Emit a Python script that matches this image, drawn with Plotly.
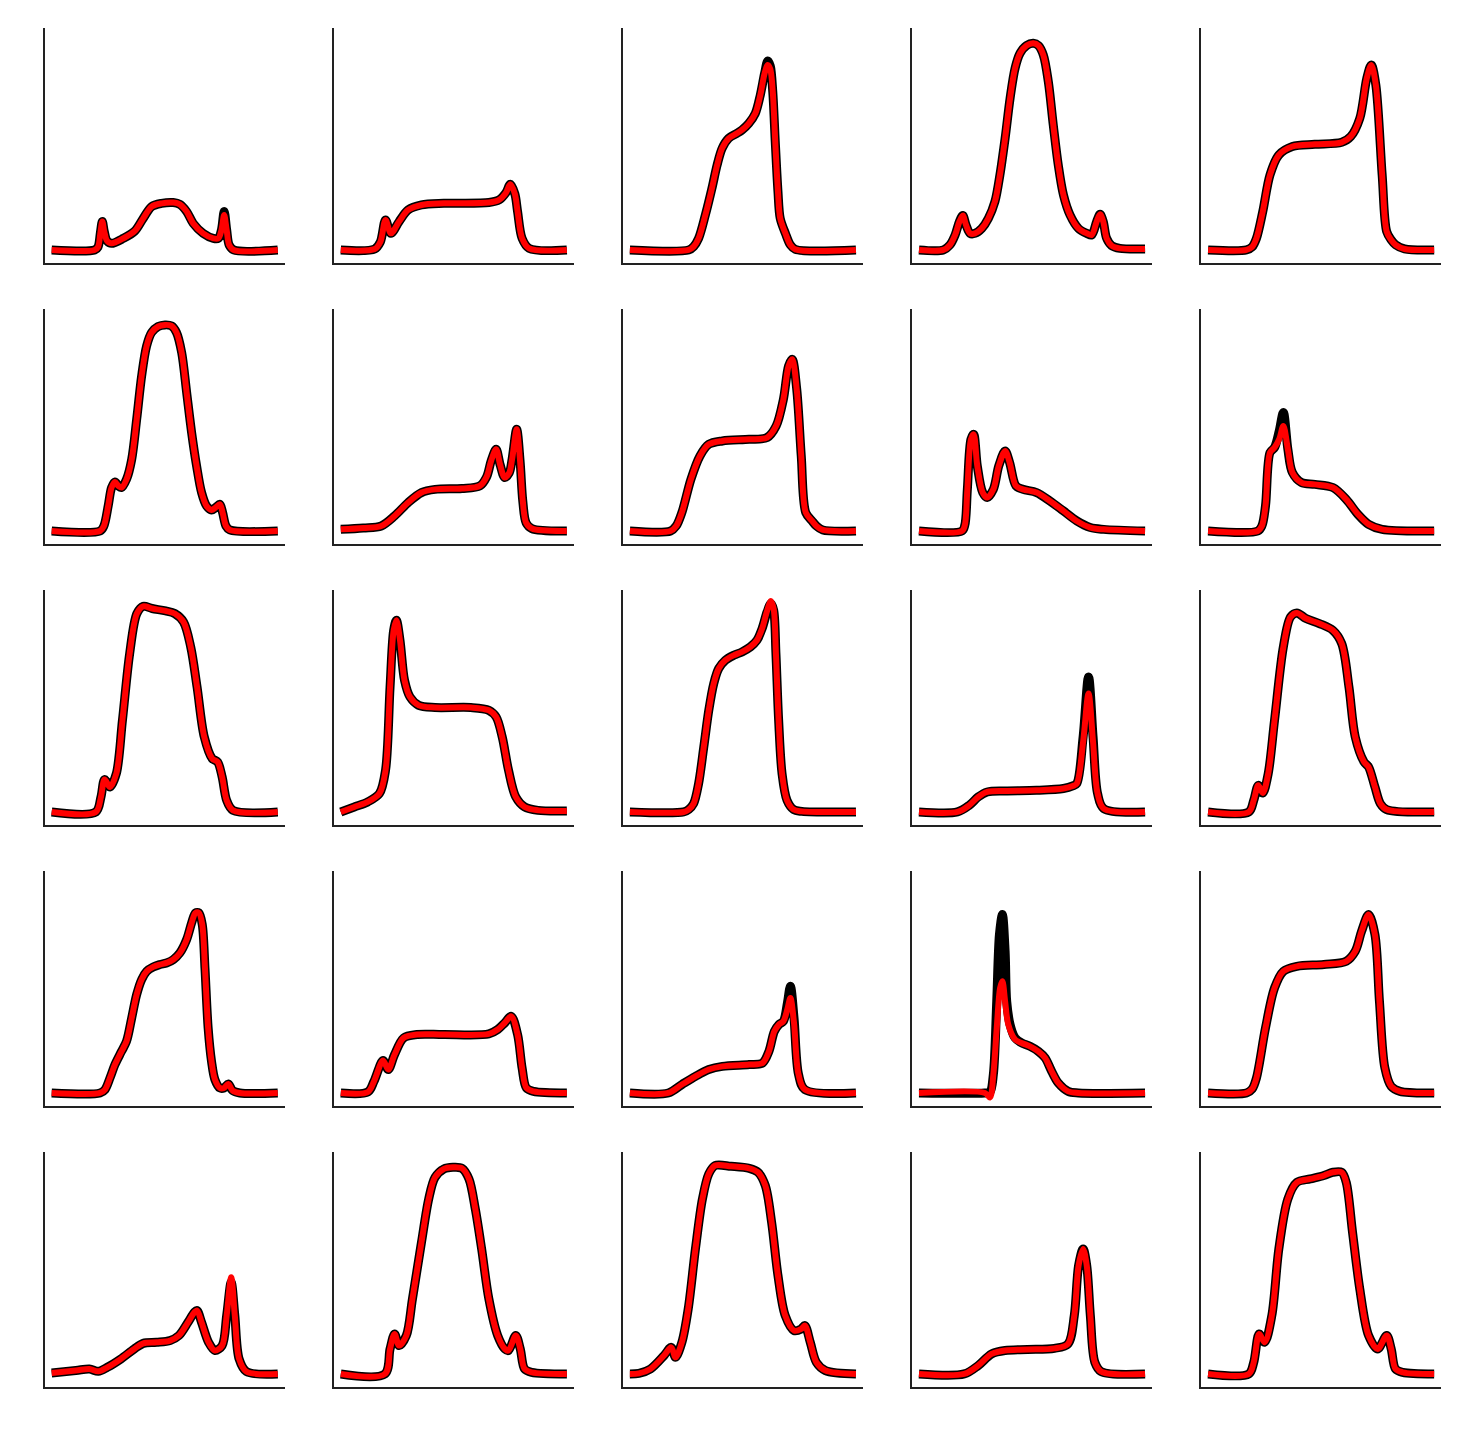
import plotly.graph_objects as go

# x in percent of the curve span, y in arbitrary intensity units (shared scale)
P01_X = [0, 19, 20.5, 21.6, 22.4, 23.3, 24.5, 26.5, 31.7, 36.8, 40.5, 44.2, 48.6, 53.8, 56.7, 59.7, 62.6, 67, 71.5, 73.7, 75.1, 76.3, 77.4, 78.5, 80.5, 100]
P01_Y = [0, 0, 1.5, 9, 14.2, 9, 4.5, 3.3, 5.8, 9.5, 15.8, 21.7, 23.3, 23.7, 22.8, 19.2, 13.3, 8.3, 5.8, 5.8, 10, 19.2, 10, 2.5, 0, 0]
P01_RED_Y = [0, 0, 1.5, 9, 14.2, 9, 4.5, 3.3, 5.8, 9.5, 15.8, 21.7, 23.3, 23.7, 22.8, 19.2, 13.3, 8.3, 5.8, 5.8, 10, 17.5, 10, 2.5, 0, 0]

P02_X = [0, 15, 17.5, 19.8, 22.2, 25.8, 29.8, 35.7, 45.6, 65.5, 70, 73, 75, 77, 78.2, 80.2, 83.3, 100]
P02_Y = [0, 0.5, 4, 15, 8.3, 14.2, 20, 22.5, 23.3, 23.7, 25, 28.5, 32.8, 28, 19.2, 5.8, 0.8, 0]

P03_X = [0, 26, 28.2, 30.4, 33.4, 36.3, 38.6, 40.8, 43.7, 47.4, 49.6, 52.6, 55.5, 57.7, 59.6, 61, 62.1, 63.2, 64.3, 65.5, 66.5, 68.8, 71, 73.2, 100]
P03_Y = [0, 0, 1.7, 5.8, 17.5, 30.8, 42.5, 50.8, 55.8, 58.3, 60, 63.3, 68.3, 77.5, 88.3, 94.5, 92, 79.2, 54.2, 29.2, 15.8, 8.3, 2.5, 0.3, 0]
P03_RED_Y = [0, 0, 1.7, 5.8, 17.5, 30.8, 42.5, 50.8, 55.8, 58.3, 60, 63.3, 68.3, 77.5, 88.3, 92.5, 90.5, 79.2, 54.2, 29.2, 15.8, 8.3, 2.5, 0.3, 0]

P04_X = [0, 10.8, 13.7, 16, 17.9, 19.4, 20.8, 22.6, 24.8, 27.8, 30.7, 33.6, 35.8, 38.1, 40.3, 42.5, 44.7, 47.6, 50.6, 52.8, 55, 57.2, 59.4, 61.6, 63.9, 66.8, 70.5, 74.2, 76.4, 78.6, 80.1, 81.5, 83, 85.2, 88.9, 100]
P04_Y = [0, 0, 2.5, 7.5, 14.2, 17.2, 12.5, 8.3, 8.3, 10.8, 15.8, 24.2, 37.5, 55.8, 75.8, 90.8, 98.3, 102.2, 103.3, 102.2, 97.5, 84.2, 62.5, 42.5, 27.5, 17.5, 10.8, 8.3, 7.5, 14.2, 17.8, 14.2, 5.8, 2.2, 0.8, 0.5]

P05_X = [0, 17, 19.5, 21.4, 24.2, 27.4, 31.3, 37.3, 47.2, 59.1, 63.1, 67.1, 70.2, 72.2, 74.2, 77, 79, 81, 83, 86.9, 100]
P05_Y = [0, 0, 1.5, 5.8, 19.2, 37.5, 47.5, 51.7, 52.8, 53.8, 56.7, 65.8, 85.8, 92.5, 82.5, 37.5, 9.2, 5, 2.5, 0.5, 0]

P06_X = [0, 21.4, 23.1, 25, 26.5, 28, 29.5, 30.9, 33.1, 35.4, 37.6, 39.8, 42, 44.2, 47.1, 50.1, 53, 55.2, 57.5, 59.7, 61.9, 64.1, 66.3, 68.5, 70.7, 72.5, 74.4, 75.6, 77.1, 78.8, 100]
P06_Y = [0, 0, 2.5, 12.5, 21.7, 24.5, 22.5, 21.7, 25.8, 35.8, 55.8, 77.5, 92.5, 99.2, 102.2, 103, 102.5, 99.2, 89.2, 69.2, 49.2, 32.5, 19.2, 12.5, 10.5, 11.7, 13.3, 9.2, 2.5, 0.5, 0]

P07_X = [0, 10, 17.9, 23.8, 29.8, 35.7, 41.7, 53.6, 61.5, 64.5, 66.5, 68.7, 70.5, 72.5, 74.5, 75.8, 77.8, 79.3, 80.5, 82, 84.5, 100]
P07_Y = [0.8, 1.5, 2.5, 7.5, 14.2, 19.2, 20.8, 21.2, 22.5, 27, 35, 40.8, 33, 26.7, 29, 36, 50.8, 35, 15, 4, 1.2, 0]

P08_X = [0, 18, 20.5, 23, 27, 31, 34.9, 40.9, 52.8, 60.7, 64.7, 67.9, 70.2, 71.8, 73.8, 75.8, 77.8, 80.6, 82.5, 85.3, 100]
P08_Y = [0, 0, 2.5, 9.2, 25.8, 37.5, 43.3, 45, 45.8, 46.7, 52.5, 65.8, 82.5, 85.8, 70.8, 37.5, 9.2, 5, 2.5, 0.5, 0]

P09_X = [0, 19, 20.3, 21.4, 23, 24.2, 25.8, 28.2, 30.2, 32.9, 35.3, 38.1, 40.1, 42.9, 46, 52, 57.9, 63.9, 69.8, 75.8, 81.7, 100]
P09_Y = [0, 0, 3, 20.8, 45.8, 48.3, 32.5, 19.2, 16.7, 20.8, 32.5, 40, 34.2, 22.5, 20.8, 19.2, 15, 10, 5, 1.7, 0.8, 0]

P10_X = [0, 22, 23.8, 25.4, 27.4, 29.4, 31.5, 33.3, 35.3, 37.3, 41.3, 47.2, 55.2, 61.1, 66.3, 71, 77, 100]
P10_Y = [0, 0, 2.5, 12.5, 39.2, 41.7, 50, 59.2, 40.8, 29.2, 24.2, 23.3, 21.7, 15.8, 8.3, 3.3, 0.8, 0]
P10_RED_Y = [0, 0, 2.5, 12.5, 39.2, 41.7, 46, 52.5, 40.8, 29.2, 24.2, 23.3, 21.7, 15.8, 8.3, 3.3, 0.8, 0]

P11_X = [0, 19.5, 21.8, 23.4, 25.8, 28.6, 31.3, 34.5, 37.7, 40.5, 44.4, 50.4, 54.4, 58.3, 61.5, 64.3, 67.5, 71, 73.4, 75.4, 77.4, 80.2, 100]
P11_Y = [0, 0, 7.5, 16.2, 12.5, 19.2, 45.8, 79.2, 99.2, 102.8, 101.7, 100.5, 99.2, 95, 82.5, 62.5, 37.5, 26.7, 25, 17.5, 5.8, 0.8, 0]

P12_X = [0, 6, 11.9, 17.1, 19.8, 21.8, 23.4, 24.6, 26.2, 28.2, 30.6, 34.5, 41.7, 57.5, 65.5, 68.7, 71.4, 74.2, 77.4, 81.3, 87.3, 100]
P12_Y = [0, 2.5, 5, 9.2, 20.8, 62.5, 90.8, 95.8, 85.8, 65.8, 57.5, 53.3, 52.2, 52.2, 50.8, 47.5, 37.5, 20.8, 7.5, 2.5, 0.8, 0.5]

P13_X = [0, 23.8, 26, 28.2, 30.4, 32.7, 34.9, 37.1, 39.3, 42.2, 45.9, 49.6, 53.3, 56.2, 58.5, 60.7, 62.4, 63.6, 64.6, 65.8, 67.3, 69.5, 72.4, 76.1, 100]
P13_Y = [0, 0, 1.2, 4.2, 14.2, 32.5, 50.8, 64.2, 71.7, 75.8, 78.3, 80, 82.5, 85.8, 91.7, 100, 104.2, 100.8, 79.2, 45.8, 19.2, 5.8, 1.2, 0.3, 0]
P13_RED_Y = [0, 0, 1.2, 4.2, 14.2, 32.5, 50.8, 64.2, 71.7, 75.8, 78.3, 80, 82.5, 85.8, 91.7, 100.5, 105.5, 101.5, 79.2, 45.8, 19.2, 5.8, 1.2, 0.3, 0]

P14_X = [0, 17, 22.2, 26.2, 30.2, 38.1, 52, 63.9, 68, 69.8, 72.6, 75, 77, 79, 81.7, 100]
P14_Y = [0, 0, 3.3, 7.5, 10, 10.5, 10.8, 11.7, 13, 14.2, 37.5, 67.5, 37.5, 9.2, 1.7, 0]
P14_RED_Y = [0, 0, 3.3, 7.5, 10, 10.5, 10.8, 11.7, 13, 14.2, 35, 59.2, 35, 9.2, 1.7, 0]

P15_X = [0, 18, 20.2, 22.2, 24.2, 26.6, 29.4, 33.3, 36.5, 39.3, 43.3, 49.2, 55.2, 59.1, 62.3, 65.1, 69, 71, 73.8, 76.2, 79, 100]
P15_Y = [0, 0, 5.8, 13.3, 9.5, 19.2, 45.8, 82.5, 97.5, 99.5, 96.7, 94.2, 90.8, 84.2, 62.5, 37.5, 25, 22.5, 12.5, 4.2, 1.2, 0]

P16_X = [0, 21.4, 23.6, 25.8, 28, 30.9, 33.1, 35.4, 37.6, 39.8, 42, 44.9, 47.9, 50.8, 53.8, 56.7, 59.7, 61.9, 63.6, 65.1, 66.6, 67.8, 69.2, 70.7, 72.2, 74.4, 76.2, 78.1, 80, 83.2, 100]
P16_Y = [0, 0, 1.7, 7.5, 14.2, 20.8, 25.8, 37.5, 49.2, 56.7, 60.8, 63, 64.2, 65, 66.7, 70, 76.7, 85, 90, 90, 84.2, 62.5, 32.5, 15.8, 6.7, 2.5, 2.5, 4.5, 1.2, 0, 0]

P17_X = [0, 12, 14.7, 18.7, 21, 23.8, 27.8, 33.7, 45.6, 65.5, 69.4, 72.5, 75.4, 78.2, 80.2, 82.1, 85.3, 100]
P17_Y = [0, 0.5, 5.8, 16.2, 11.7, 19.2, 27.5, 29.2, 29.2, 29.5, 31.7, 35, 38.3, 29.2, 12.5, 2.5, 0.8, 0]

P18_X = [0, 17, 23, 29, 34.9, 40.9, 52.8, 58.7, 61.5, 63.9, 65.9, 67.9, 69.7, 71, 72.6, 74.6, 77.4, 100]
P18_Y = [0, 0, 4.2, 8.3, 11.7, 13.3, 14.2, 15, 20.8, 30.8, 34.2, 35.8, 45, 53.3, 37.5, 9.2, 1.7, 0]
P18_RED_Y = [0, 0, 4.2, 8.3, 11.7, 13.3, 14.2, 15, 20.8, 30.8, 34.2, 35.8, 42, 47.5, 35, 9.2, 1.7, 0]

P19_X = [0, 29, 31.4, 32.9, 34.4, 35.6, 36.9, 38.1, 38.8, 40.3, 42.5, 45.4, 49.1, 52.8, 55.8, 58.7, 61.6, 66, 70.5, 100]
P19_Y = [0, 0, 0.5, 9.2, 45.8, 79.2, 89.2, 70.8, 45.8, 34.2, 27.5, 25, 23.3, 20.8, 17.5, 10.8, 5, 0.8, 0, 0]
P19_RED_X = [0, 29.2, 31.4, 32.9, 34.4, 35.9, 36.9, 38.1, 39.5, 42.5, 45.4, 49.1, 52.8, 55.8, 58.7, 61.6, 66, 70.5, 100]
P19_RED_Y = [0, 0, -2.2, 9.2, 32.5, 52.5, 55.8, 45.8, 34.2, 26.7, 25, 23.3, 20.8, 17.5, 10.8, 5, 0.8, 0, 0]

P20_X = [0, 17, 19.5, 21.4, 25.4, 29.4, 33.3, 39.3, 51.2, 61.1, 65.1, 67.9, 71, 73.8, 75.8, 78.2, 81, 84.9, 100]
P20_Y = [0, 0, 2, 7.5, 32.5, 52.5, 60.8, 63.3, 64.2, 65.8, 70.8, 80.8, 89.2, 79.2, 45.8, 12.5, 3.3, 0.8, 0]

P21_X = [0, 10.7, 16.7, 20.6, 24.6, 30.6, 36.5, 40.5, 46.4, 52.4, 56.3, 60.3, 63.1, 64.3, 66.3, 69.4, 72.2, 75.4, 77.4, 79.4, 81, 82.9, 86.1, 100]
P21_Y = [0.5, 1.7, 2.5, 1.3, 3.3, 7.5, 12.5, 15.3, 15.8, 16.7, 19.2, 25.8, 30.8, 31.7, 25.8, 15.8, 11.7, 14.2, 29.2, 45.8, 29.2, 7.5, 1.2, 0]
P21_RED_Y = [0.5, 1.7, 2.5, 1.3, 3.3, 7.5, 12.5, 15.3, 15.8, 16.7, 19.2, 25.8, 30.8, 31.7, 25.8, 15.8, 11.7, 14.2, 29.2, 48.3, 29.2, 7.5, 1.2, 0]

P22_X = [0, 19.5, 21.8, 23.8, 25.8, 29, 31.7, 35.7, 38.9, 41.7, 45.6, 49.6, 53.6, 56.7, 59.5, 62.3, 65.5, 69.4, 72.6, 74.2, 77.4, 79.4, 81.3, 84.5, 100]
P22_Y = [0, 0, 12.5, 20, 14.2, 19.2, 37.5, 65.8, 87.5, 98.3, 102.5, 103.3, 102.8, 97.5, 82.5, 62.5, 37.5, 19.2, 12.5, 11.7, 19.2, 12.5, 2.5, 0.8, 0]

P23_X = [0, 4, 9.1, 15.1, 18.3, 20.2, 23, 25.8, 29, 32.1, 34.9, 37.7, 44.8, 52.8, 56.7, 59.9, 62.7, 65.5, 68.7, 72.6, 75.8, 77.4, 79.8, 82.5, 86.5, 100]
P23_Y = [0, 0.3, 2.5, 9.2, 13.3, 8.3, 15.8, 32.5, 62.5, 87.5, 100, 104.2, 103.8, 102.8, 100.8, 94.2, 75.8, 49.2, 29.2, 21.7, 22.5, 24.2, 15.8, 5.8, 1.7, 0]

P24_X = [0, 20, 26.2, 32.1, 38.1, 48, 59.9, 65.9, 68.7, 70.6, 72.6, 74.2, 75.8, 77.8, 80.6, 100]
P24_Y = [0, 0, 4.2, 10, 11.7, 12.2, 12.8, 15, 29.2, 54.2, 62.5, 54.2, 29.2, 5.8, 1.2, 0]

P25_X = [0, 18, 20.2, 22.6, 25, 28.2, 31.3, 35.3, 39.3, 45.2, 51.2, 55.2, 59.1, 61.1, 63.9, 67.1, 71, 75, 79, 81, 82.9, 86.1, 100]
P25_Y = [0, 0, 5.8, 20, 15.8, 29.2, 62.5, 87.5, 95.8, 97.5, 99.2, 100.8, 100.8, 95.8, 70.8, 42.5, 19.2, 12.5, 19.2, 12.5, 2.5, 0.8, 0]

# (black x, black y, red x, red y) per panel, row-major
PANELS = [
    (P01_X, P01_Y, P01_X, P01_RED_Y),
    (P02_X, P02_Y, P02_X, P02_Y),
    (P03_X, P03_Y, P03_X, P03_RED_Y),
    (P04_X, P04_Y, P04_X, P04_Y),
    (P05_X, P05_Y, P05_X, P05_Y),
    (P06_X, P06_Y, P06_X, P06_Y),
    (P07_X, P07_Y, P07_X, P07_Y),
    (P08_X, P08_Y, P08_X, P08_Y),
    (P09_X, P09_Y, P09_X, P09_Y),
    (P10_X, P10_Y, P10_X, P10_RED_Y),
    (P11_X, P11_Y, P11_X, P11_Y),
    (P12_X, P12_Y, P12_X, P12_Y),
    (P13_X, P13_Y, P13_X, P13_RED_Y),
    (P14_X, P14_Y, P14_X, P14_RED_Y),
    (P15_X, P15_Y, P15_X, P15_Y),
    (P16_X, P16_Y, P16_X, P16_Y),
    (P17_X, P17_Y, P17_X, P17_Y),
    (P18_X, P18_Y, P18_X, P18_RED_Y),
    (P19_X, P19_Y, P19_RED_X, P19_RED_Y),
    (P20_X, P20_Y, P20_X, P20_Y),
    (P21_X, P21_Y, P21_X, P21_RED_Y),
    (P22_X, P22_Y, P22_X, P22_Y),
    (P23_X, P23_Y, P23_X, P23_Y),
    (P24_X, P24_Y, P24_X, P24_Y),
    (P25_X, P25_Y, P25_X, P25_Y),
]

# page body has an 8px margin, so the figure is drawn 16px smaller and offset
W, H = 1453, 1417
OFF = 8
X_RANGE = [-3.17, 103.2]
Y_RANGE = [-6.67, 110.8]

fig = go.Figure()
layout = dict(
    width=W, height=H,
    margin=dict(l=0, r=0, t=0, b=0),
    paper_bgcolor="white", plot_bgcolor="white",
    showlegend=False,
)

for i, (bx, by, rx, ry) in enumerate(PANELS):
    r, c = divmod(i, 5)
    n = i + 1
    xa = "x" if n == 1 else f"x{n}"
    ya = "y" if n == 1 else f"y{n}"
    fig.add_trace(go.Scatter(x=bx, y=by, mode="lines", xaxis=xa, yaxis=ya,
                             line=dict(color="black", width=9, shape="spline", smoothing=0.9),
                             hoverinfo="skip"))
    fig.add_trace(go.Scatter(x=rx, y=ry, mode="lines", xaxis=xa, yaxis=ya,
                             line=dict(color="red", width=6, shape="spline", smoothing=0.9),
                             hoverinfo="skip"))
    left = 44.5 + 289.1 * c - OFF
    right = left + 240.5
    top = 28.3 + 281 * r - OFF
    bottom = 263.3 + 281 * r - OFF
    common = dict(showline=True, linecolor="#222222", linewidth=1.5, ticks="",
                  showticklabels=False, showgrid=False, zeroline=False)
    layout["xaxis" if n == 1 else f"xaxis{n}"] = dict(
        domain=[left / W, right / W], range=X_RANGE, anchor=ya, **common)
    layout["yaxis" if n == 1 else f"yaxis{n}"] = dict(
        domain=[1 - bottom / H, 1 - top / H], range=Y_RANGE, anchor=xa, **common)

fig.update_layout(**layout)
fig.write_html("out.html")
